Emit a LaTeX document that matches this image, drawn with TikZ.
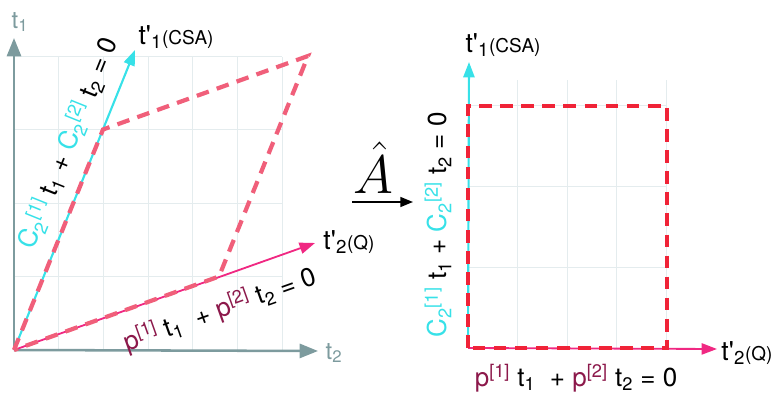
\documentclass[tikz,border=0pt]{standalone}
\usepackage{fontspec}
\setmainfont{TeX Gyre Heros}
\usetikzlibrary{arrows.meta,positioning}
\definecolor{AxisGray}{RGB}{125,155,158}
\definecolor{GridGray}{RGB}{228,236,238}
\definecolor{CyanLine}{RGB}{55,225,232}
\definecolor{MagentaLine}{RGB}{240,40,130}
\definecolor{SalmonDash}{RGB}{240,95,122}
\definecolor{RedDash}{RGB}{240,35,55}
\definecolor{PMaroon}{RGB}{140,25,75}

\newcommand{\axlab}[2]{t\textquotesingle\textsubscript{#1}{\fontsize{13.5}{16}\selectfont(#2)}}
\newcommand{\cs}[1]{\textcolor{CyanLine}{C\textsubscript{2}\textsuperscript{[#1]}}}
\newcommand{\pp}[1]{\textcolor{PMaroon}{p\textsuperscript{[#1]}}}

\begin{document}
\begin{tikzpicture}[
    x=0.025cm, y=0.025cm,
    grid/.style={draw=GridGray, line width=0.6pt},
    axis/.style={-{Triangle[length=13pt,width=10pt]}, draw=AxisGray, fill=AxisGray, line width=1.8pt},
    csa/.style={-{Triangle[length=11pt,width=8pt]}, draw=CyanLine, fill=CyanLine, line width=1.5pt},
    qline/.style={-{Triangle[length=11pt,width=8pt]}, draw=MagentaLine, fill=MagentaLine, line width=1.3pt},
    cell/.style={dash pattern=on 9pt off 6pt, line width=3pt},
    lbl/.style={font=\fontsize{19}{22}\selectfont, inner sep=0pt},
    grey/.style={font=\fontsize{17}{20}\selectfont, inner sep=0pt, text=AxisGray},
    eqn/.style={font=\fontsize{18.5}{22}\selectfont, inner sep=0pt},
    maparrow/.style={-{Triangle[length=9pt,width=7pt]}, line width=1.3pt}
  ]
    \useasboundingbox (0,0) rectangle (776,395);

    % Original basis (t1, t2)
    \foreach \i in {1,...,6}
      \draw[grid] ({14+44.7*\i},45) -- ({14+44.7*\i},338);
    \foreach \j in {1,...,4}
      \draw[grid] (14,{45+73.5*\j}) -- (282,{45+73.5*\j});

    \coordinate (O1) at (14,45);
    \coordinate (t1end) at (14,357);
    \coordinate (t2end) at (318,44);
    \coordinate (csaend) at (135,345);
    \coordinate (qend) at (315,152);
    \coordinate (cA) at (103,265.5);
    \coordinate (cB) at (308,339);
    \coordinate (cC) at (219,118.5);

    \draw[axis] (O1) -- (t1end);
    \draw[axis] (O1) -- (t2end);
    \draw[csa] (O1) -- (csaend);
    \draw[qline] (O1) -- (qend);
    \draw[cell, draw=SalmonDash] (O1) -- (cA) -- (cB) -- (cC) -- cycle;

    \node[grey] (t1lbl) at (20,373) {t\textsubscript{1}};
    \node[grey] (t2lbl) at (334,42) {t\textsubscript{2}};
    \node[lbl] (csalbl) at (176,358) {\axlab{1}{CSA}};
    \node[lbl] (qlbl) at (349,153) {\axlab{2}{Q}};
    \node[eqn, rotate=68] (csaeq) at (68,252) {\cs{1} t\textsubscript{1} + \cs{2} t\textsubscript{2} = 0};
    \node[eqn, rotate=19.6] (qeq) at (220,85) {\pp{1} t\textsubscript{1}\ \ + \pp{2} t\textsubscript{2} = 0};

    % Transformation
    \node[font=\fontsize{24}{28}\selectfont, inner sep=0pt] (Ahat) at (373,227) {\scalebox{1.55}{$\hat{A}$}};
    \coordinate (mapL) at (352,193);
    \coordinate (mapR) at (413,193);
    \draw[maparrow] (mapL) -- (mapR);

    % New basis (t'1, t'2)
    \foreach \i in {1,...,4}
      \draw[grid] ({468+49.5*\i},47) -- ({468+49.5*\i},315);
    \foreach \j in {1,...,3}
      \draw[grid] (468,{47+81*\j}) -- (667,{47+81*\j});

    \coordinate (O2) at (468,47);
    \coordinate (csaend2) at (469,333);
    \coordinate (qend2) at (717,46);
    \coordinate (rTL) at (468,289);
    \coordinate (rTR) at (667,289);
    \coordinate (rBR) at (667,47);

    \draw[csa] (O2) -- (csaend2);
    \draw[qline] (O2) -- (qend2);
    \draw[cell, draw=RedDash] (O2) -- (rTL) -- (rTR) -- (rBR) -- cycle;

    \node[lbl] (csalbl2) at (503,350) {\axlab{1}{CSA}};
    \node[lbl] (qlbl2) at (747,42) {\axlab{2}{Q}};
    \node[eqn, rotate=90] (csaeq2) at (438,170) {\cs{1} t\textsubscript{1} + \cs{2} t\textsubscript{2} = 0};
    \node[eqn] (qeq2) at (576,17) {\pp{1} t\textsubscript{1}\ \ + \pp{2} t\textsubscript{2} = 0};
\end{tikzpicture}
\end{document}
